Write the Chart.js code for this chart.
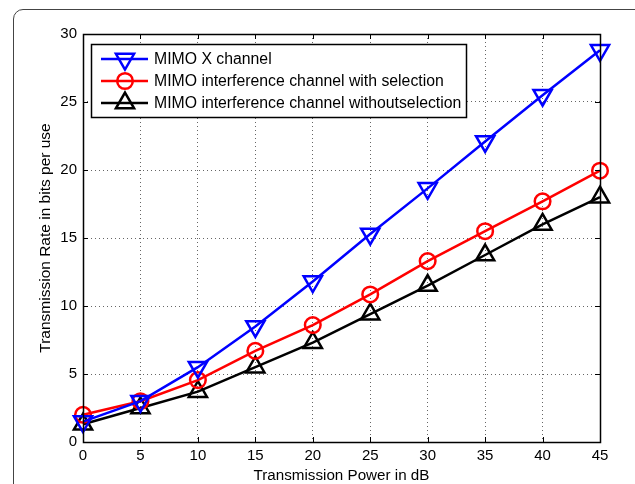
<!DOCTYPE html>
<html>
<head>
<meta charset="utf-8">
<script src="https://cdn.jsdelivr.net/npm/chart.js@4.4.1/dist/chart.umd.min.js"></script>
<style>
html,body{margin:0;padding:0;background:#fff;overflow:hidden;}
#wrap{position:relative;width:635px;height:484px;overflow:hidden;}
#frame{position:absolute;left:13px;top:9px;width:700px;height:600px;border:1px solid #444;border-radius:10px;box-sizing:border-box;}
canvas{position:absolute;left:0;top:0;}
</style>
</head>
<body>
<div id="wrap">
<div id="frame"></div>
<canvas id="c" width="635" height="484"></canvas>
</div>
<script>
const categories = [0, 5, 10, 15, 20, 25, 30, 35, 40, 45];
const mimoX = [1.5, 3.0, 5.5, 8.5, 11.8, 15.3, 18.65, 22.1, 25.5, 28.8];
const withSel = [2.0, 3.0, 4.55, 6.7, 8.6, 10.85, 13.3, 15.5, 17.7, 19.95];
const withoutSel = [1.3, 2.5, 3.7, 5.5, 7.3, 9.4, 11.5, 13.75, 16.0, 18.0];
const seriesNames = ["MIMO X channel", "MIMO interference channel with selection", "MIMO interference channel withoutselection"];
const xTicks = [0, 5, 10, 15, 20, 25, 30, 35, 40, 45];
const yTicks = [0, 5, 10, 15, 20, 25, 30];

const FONT = "'Liberation Sans', Arial, sans-serif";

function pts(arr){ return categories.map((x,i)=>({x:x,y:arr[i]})); }

const styles = [
  {color:'#0000ff', pointStyle:'triangle', rotation:180, radius:10.5},
  {color:'#ff0000', pointStyle:'circle', rotation:0, radius:7.8},
  {color:'#000000', pointStyle:'triangle', rotation:0, radius:10.5}
];
const dataArrs = [mimoX, withSel, withoutSel];

const datasets = dataArrs.map((arr,i)=>({
  label: seriesNames[i],
  data: pts(arr),
  borderColor: styles[i].color,
  backgroundColor: 'rgba(0,0,0,0)',
  borderWidth: 2.5,
  pointStyle: styles[i].pointStyle,
  rotation: styles[i].rotation,
  pointRadius: styles[i].radius,
  pointBorderWidth: 2.5,
  pointBackgroundColor: 'rgba(0,0,0,0)',
  pointBorderColor: styles[i].color,
  tension: 0,
  clip: false
}));

const boxPlugin = {
  id:'boxPlugin',
  afterDraw(chart){
    const ctx = chart.ctx, a = chart.chartArea;
    const xs = chart.scales.x, ys = chart.scales.y;
    ctx.save();
    ctx.strokeStyle = '#000';
    ctx.lineWidth = 1;
    ctx.setLineDash([]);
    // inward ticks
    xTicks.forEach(v=>{
      const px = Math.round(xs.getPixelForValue(v))+0.5;
      ctx.beginPath(); ctx.moveTo(px,a.bottom); ctx.lineTo(px,a.bottom-5); ctx.stroke();
      ctx.beginPath(); ctx.moveTo(px,a.top); ctx.lineTo(px,a.top+5); ctx.stroke();
    });
    yTicks.forEach(v=>{
      const py = Math.round(ys.getPixelForValue(v))+0.5;
      ctx.beginPath(); ctx.moveTo(a.left,py); ctx.lineTo(a.left+5,py); ctx.stroke();
      ctx.beginPath(); ctx.moveTo(a.right,py); ctx.lineTo(a.right-5,py); ctx.stroke();
    });
    // box
    ctx.lineWidth = 1.5;
    ctx.strokeRect(Math.round(a.left)+0.5, Math.round(a.top)+0.5, Math.round(a.right-a.left), Math.round(a.bottom-a.top));
    // legend
    const lx = a.left+8, ly = a.top+10, lw = 375, lh = 73;
    ctx.fillStyle = '#fff';
    ctx.fillRect(lx,ly,lw,lh);
    ctx.lineWidth = 1.5;
    ctx.strokeStyle = '#000';
    ctx.strokeRect(lx+0.5,ly+0.5,lw,lh);
    ctx.font = '15.8px ' + FONT;
    ctx.textBaseline = 'middle';
    ctx.textAlign = 'left';
    seriesNames.forEach((name,i)=>{
      const y = ly + 15 + i*22;
      const st = styles[i];
      ctx.strokeStyle = st.color;
      ctx.lineWidth = 2.5;
      ctx.beginPath(); ctx.moveTo(lx+10,y); ctx.lineTo(lx+57,y); ctx.stroke();
      ctx.fillStyle = 'rgba(0,0,0,0)';
      Chart.helpers.drawPoint(ctx, {pointStyle: st.pointStyle, rotation: st.rotation, radius: st.radius, borderWidth: 2.5}, lx+34, y);
      ctx.fillStyle = '#000';
      ctx.fillText(name, lx+63, y+1);
    });
    ctx.restore();
  }
};

new Chart(document.getElementById('c'), {
  type:'line',
  data:{datasets},
  options:{
    responsive:false,
    animation:false,
    devicePixelRatio:1,
    layout:{padding:{top:34,right:35,left:0,bottom:0}},
    plugins:{legend:{display:false},tooltip:{enabled:false}},
    scales:{
      x:{
        type:'linear', min:0, max:45,
        afterBuildTicks(s){ s.ticks = xTicks.map(v=>({value:v})); },
        afterFit(s){ s.height = 42; },
        grid:{color:'#666', lineWidth:1, drawTicks:false, drawOnChartArea:true},
        border:{display:false, dash:[1,3]},
        ticks:{color:'#000', font:{family:FONT,size:15}, padding:5, maxRotation:0},
        title:{display:true, text:'Transmission Power in dB', color:'#000', font:{family:FONT,size:15.2}, padding:{top:0,bottom:-1}}
      },
      y:{
        type:'linear', min:0, max:30,
        afterBuildTicks(s){ s.ticks = yTicks.map(v=>({value:v})); },
        afterFit(s){ s.width = 83; },
        grid:{color:'#666', lineWidth:1, drawTicks:false},
        border:{display:false, dash:[1,3]},
        ticks:{color:'#000', font:{family:FONT,size:15}, padding:6},
        title:{display:true, text:'Transmission Rate in bits per use', color:'#000', font:{family:FONT,size:15.5}, padding:{top:36,bottom:0}}
      }
    }
  },
  plugins:[boxPlugin]
});
</script>
</body>
</html>
